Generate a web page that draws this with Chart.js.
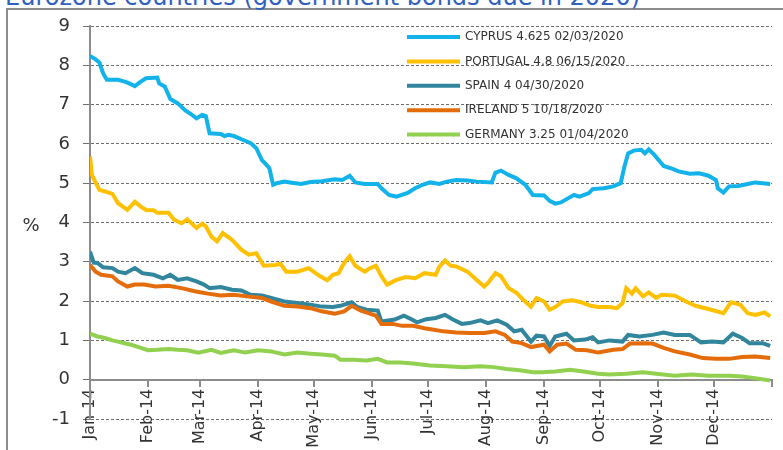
<!DOCTYPE html>
<html>
<head>
<meta charset="utf-8">
<script src="https://cdn.jsdelivr.net/npm/chart.js@4.4.0/dist/chart.umd.min.js"></script>
<style>
html, body { margin: 0; padding: 0; background: #fff; overflow: hidden; }
#wrap { position: relative; width: 783px; height: 450px; overflow: hidden; }
#frame { position: absolute; left: 6px; top: 8px; width: 900px; height: 600px; border: 2px solid #8c8c8c; }
#title { position: absolute; left: 5px; top: -17px; font: 24px "DejaVu Sans"; color: #3060c0; white-space: nowrap; }
canvas { position: absolute; left: 0; top: 0; }
</style>
</head>
<body>
<div id="wrap">
  <div id="frame"></div>
  <div id="title">Eurozone countries (government bonds due in 2020)</div>
  <canvas id="chart" width="783" height="450"></canvas>
</div>
<script>
// day of year 2014 (0 = 1 Jan) and yield in %
const cyprusDays = [0,3,5,7,9,15,19,21,24,27,30,36,37,40,43,47,51,54,57,60,62,64,70,72,74,77,82,86,89,92,94,96,98,100,104,107,113,118,124,
  131,135,139,142,147,154,156,160,164,170,174,178,182,187,191,196,202,207,215,217,220,224,228,233,237,243,
  246,249,252,256,259,262,267,269,275,280,284,286,288,291,295,297,299,302,305,307,311,315,321,326,331,335,336,339,342,347,352,356,364];
const cyprusYield = [8.24,8.15,8.07,7.8,7.63,7.63,7.58,7.54,7.47,7.58,7.67,7.69,7.54,7.46,7.14,7.03,6.85,6.76,6.65,6.74,6.71,6.27,6.25,6.2,6.23,6.2,6.1,6.02,5.89,5.59,5.49,5.38,4.96,5.0,5.04,5.02,4.98,5.03,5.05,
  5.1,5.08,5.19,5.02,4.98,4.98,4.87,4.7,4.66,4.75,4.87,4.96,5.02,4.98,5.04,5.08,5.07,5.04,5.02,5.27,5.32,5.21,5.13,4.96,4.7,4.69,
  4.55,4.48,4.51,4.62,4.7,4.66,4.75,4.85,4.87,4.92,5.0,5.42,5.76,5.83,5.85,5.76,5.86,5.72,5.55,5.44,5.38,5.3,5.24,5.25,5.19,5.08,4.87,4.76,4.92,4.93,4.98,5.02,4.98];

const portugalDays = [0,1,5,8,12,15,18,20,24,27,30,34,36,42,45,49,52,57,60,62,65,68,71,76,81,85,89,93,99,102,105,111,117,122,
  123,127,130,133,136,139,142,147,150,153,156,159,164,169,174,179,185,187,190,193,196,202,207,211,213,217,220,224,228,232,236,239,243,246,
  249,253,258,263,268,272,278,282,285,287,290,292,296,299,303,306,313,319,324,331,339,343,348,352,356,361,364];
const portugalYield = [5.68,5.21,4.83,4.79,4.73,4.49,4.39,4.32,4.53,4.41,4.32,4.31,4.25,4.25,4.07,3.98,4.08,3.86,3.97,3.9,3.64,3.52,3.73,3.56,3.31,3.18,3.22,2.9,2.92,2.95,2.75,2.75,2.84,2.67,
  2.64,2.53,2.67,2.71,2.97,3.14,2.9,2.75,2.84,2.9,2.63,2.42,2.54,2.61,2.58,2.71,2.67,2.88,3.03,2.9,2.88,2.75,2.54,2.37,2.46,2.71,2.63,2.33,2.22,2.03,1.86,2.08,1.99,1.78,
  1.85,1.99,2.02,1.97,1.88,1.85,1.85,1.82,1.95,2.33,2.19,2.33,2.12,2.22,2.08,2.16,2.14,1.99,1.88,1.8,1.69,1.97,1.91,1.69,1.65,1.71,1.61];

const spainDays = [0,2,4,7,12,15,19,24,28,34,39,43,47,52,57,61,64,70,76,81,86,92,97,104,111,118,124,
  130,134,140,143,148,154,156,163,168,172,175,180,185,190,194,199,203,209,213,218,223,227,231,236,239,243,
  246,249,255,259,265,269,272,278,285,288,294,301,307,313,321,327,333,339,344,349,353,360,364];
const spainYield = [3.26,2.98,2.97,2.86,2.84,2.75,2.71,2.84,2.71,2.67,2.58,2.67,2.54,2.58,2.5,2.42,2.33,2.36,2.29,2.27,2.16,2.14,2.08,1.99,1.95,1.91,1.86,
  1.85,1.88,1.97,1.85,1.78,1.76,1.48,1.53,1.63,1.54,1.46,1.54,1.57,1.65,1.54,1.42,1.44,1.51,1.44,1.51,1.4,1.23,1.27,0.97,1.12,1.1,
  0.86,1.1,1.17,1.0,1.02,1.08,0.95,1.0,0.97,1.14,1.1,1.14,1.2,1.14,1.14,0.95,0.97,0.95,1.17,1.06,0.93,0.93,0.86];

const irelandDays = [0,3,6,12,15,20,24,29,35,42,49,56,63,70,77,84,92,97,104,111,118,124,
  131,136,140,145,153,156,162,167,173,179,184,189,196,203,211,217,222,226,231,236,243,
  246,250,255,260,266,272,280,285,289,296,301,307,313,321,328,335,342,349,356,364];
const irelandYield = [2.92,2.75,2.67,2.63,2.5,2.37,2.42,2.42,2.37,2.39,2.33,2.25,2.19,2.14,2.16,2.12,2.08,1.99,1.88,1.86,1.82,1.74,
  1.68,1.74,1.88,1.76,1.63,1.42,1.42,1.37,1.37,1.31,1.27,1.23,1.2,1.19,1.19,1.23,1.14,0.97,0.93,0.83,0.89,
  0.72,0.89,0.92,0.76,0.75,0.69,0.76,0.78,0.92,0.93,0.92,0.81,0.72,0.64,0.55,0.53,0.53,0.58,0.59,0.55];

const germanyDays = [0,4,8,12,15,19,22,26,31,36,42,47,52,58,65,70,77,83,90,97,104,111,118,124,
  131,134,141,148,154,159,166,173,182,191,200,209,216,223,230,237,
  242,249,257,264,272,278,287,296,303,313,322,331,342,349,356,364];
const germanyYield = [1.17,1.1,1.06,1.0,0.97,0.92,0.89,0.83,0.75,0.76,0.78,0.76,0.75,0.69,0.76,0.68,0.75,0.69,0.75,0.72,0.64,0.69,0.66,0.64,
  0.61,0.51,0.51,0.49,0.53,0.44,0.44,0.41,0.36,0.34,0.32,0.34,0.32,0.27,0.24,0.19,
  0.19,0.21,0.25,0.21,0.15,0.13,0.15,0.19,0.15,0.1,0.13,0.1,0.1,0.08,0.04,-0.02];

const seriesNames = ['CYPRUS 4.625 02/03/2020', 'PORTUGAL 4.8 06/15/2020', 'SPAIN 4 04/30/2020', 'IRELAND 5 10/18/2020', 'GERMANY 3.25 01/04/2020'];
const seriesColors = ['#12b2ea', '#ffc000', '#31859c', '#e46c0a', '#92d050'];

const monthStarts = [0, 31, 59, 90, 120, 151, 181, 212, 243, 273, 304, 334, 365];
const monthLabels = ['Jan-14','Feb-14','Mar-14','Apr-14','May-14','Jun-14','Jul-14','Aug-14','Sep-14','Oct-14','Nov-14','Dec-14',''];

const allDays = [cyprusDays, portugalDays, spainDays, irelandDays, germanyDays];
const allYields = [cyprusYield, portugalYield, spainYield, irelandYield, germanyYield];

// later series drawn on top, like the original
const datasets = seriesNames.map((name, i) => ({
    label: name,
    data: allDays[i].map((d, j) => ({ x: d, y: allYields[i][j] })),
    borderColor: seriesColors[i],
    borderWidth: 4,
    pointRadius: 0,
    order: 5 - i
}));

// % label and legend drawn inside the plot
const extras = {
    id: 'extras',
    afterDraw(chart) {
        const ctx = chart.ctx;
        ctx.save();
        ctx.fillStyle = '#333';
        ctx.font = '18px "DejaVu Sans"';
        ctx.textAlign = 'center';
        ctx.textBaseline = 'middle';
        ctx.fillText('%', 31, 226);

        ctx.font = '12px "DejaVu Sans"';
        ctx.textAlign = 'left';
        chart.data.datasets.forEach((ds, i) => {
            const y = 37 + i * 24.4;
            ctx.strokeStyle = ds.borderColor;
            ctx.lineWidth = 4;
            ctx.beginPath();
            ctx.moveTo(407, y);
            ctx.lineTo(460, y);
            ctx.stroke();
            ctx.fillStyle = '#333';
            ctx.fillText(ds.label, 465, y);
        });
        ctx.restore();
    }
};

new Chart(document.getElementById('chart').getContext('2d'), {
    type: 'line',
    data: { datasets: datasets },
    options: {
        responsive: false,
        animation: false,
        layout: { padding: { top: 26, right: 11, bottom: 31, left: 0 } },
        plugins: { legend: { display: false }, tooltip: { enabled: false } },
        scales: {
            x: {
                type: 'linear',
                position: { y: 0 },
                min: 0,
                max: 365,
                afterBuildTicks: (axis) => { axis.ticks = monthStarts.map(v => ({ value: v })); },
                afterFit: (scale) => { scale.paddingLeft = 0; scale.paddingRight = 0; },
                ticks: {
                    autoSkip: false,
                    minRotation: 90,
                    maxRotation: 90,
                    padding: 3,
                    color: '#333',
                    font: { family: 'DejaVu Sans', size: 16 },
                    callback: (v) => monthLabels[monthStarts.indexOf(v)]
                },
                grid: { drawOnChartArea: false, drawTicks: true, tickLength: 6, color: '#8c8c8c', lineWidth: 2 },
                border: { color: '#8c8c8c', width: 2 }
            },
            y: {
                min: -1,
                max: 9,
                afterFit: (scale) => { scale.width = 90; },
                ticks: {
                    stepSize: 1,
                    padding: 13,
                    color: '#333',
                    font: { family: 'DejaVu Sans', size: 18 }
                },
                grid: { color: '#6e6e6e', lineWidth: 1, tickLength: 7 },
                border: { color: '#8c8c8c', width: 2, dash: [3, 2] }
            }
        }
    },
    plugins: [extras]
});
</script>
</body>
</html>
